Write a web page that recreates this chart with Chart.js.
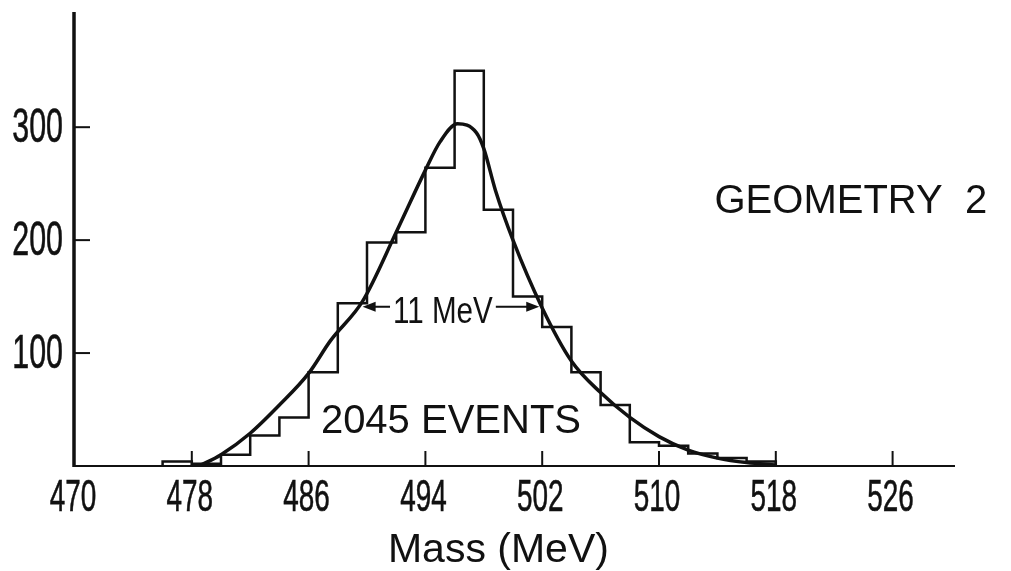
<!DOCTYPE html>
<html>
<head>
<meta charset="utf-8">
<script src="https://cdn.jsdelivr.net/npm/chart.js@4.4.0/dist/chart.umd.min.js"></script>
<style>
  html, body { margin: 0; padding: 0; background: #fff; }
  #wrap { width: 1011px; height: 571px; position: relative; }
</style>
</head>
<body>
<div id="wrap"><canvas id="chart"></canvas></div>
<script>
// histogram: left edge of each 2 MeV bin and its number of events
const binEdges = [476, 478, 480, 482, 484, 486, 488, 490, 492, 494, 496, 498, 500, 502, 504, 506, 508, 510, 512, 514, 516];
const binWidth = 2;
const counts = [4, 2, 10, 27, 43, 83, 144, 198, 207, 264, 350, 227, 150, 123, 83, 54, 21, 18, 11, 7, 4];

// fitted resolution curve
const fitMass = [478.5, 480, 482, 484, 486, 487.5, 489.7, 492, 494, 495, 496.2, 497.5, 498, 498.8, 500, 502, 504, 506, 508, 510, 512, 514, 516, 518];
const fitValue = [0, 10, 29, 54, 82, 111, 146, 207, 262, 287, 303, 295, 281, 244, 200, 140, 93, 65, 43, 26, 14, 7, 3, 1];

const xTicks = [470, 478, 486, 494, 502, 510, 518, 526];
const yTicks = [100, 200, 300];

// labels written on the plot
const fwhmText = '11 MeV';
const fwhmFrom = 489.7, fwhmTo = 501.8, fwhmLevel = 141;
const eventsText = '2045 EVENTS';
const geometryText = 'GEOMETRY  2';
const xTitle = 'Mass (MeV)';

const histData = [{ x: binEdges[0], y: 0 }]
    .concat(binEdges.map((e, i) => ({ x: e, y: counts[i] })))
    .concat([{ x: binEdges[binEdges.length - 1] + binWidth, y: 0 }]);
const fitData = fitMass.map((m, i) => ({ x: m, y: fitValue[i] }));

const INK = '#111';
const FONT = "'Liberation Sans', Arial, sans-serif";

// draws text squeezed horizontally (the hand lettering is narrow)
function squeezed(ctx, text, x, y, sx, align, weight) {
    ctx.save();
    ctx.translate(x, y);
    ctx.scale(sx, 1);
    ctx.textAlign = align;
    ctx.fillText(text, 0, 0);
    if (weight) {
        ctx.lineWidth = weight;
        ctx.strokeText(text, 0, 0);
    }
    ctx.restore();
}

function arrowHead(ctx, x, y, dir) {
    ctx.beginPath();
    ctx.moveTo(x, y);
    ctx.lineTo(x - dir * 13, y - 5);
    ctx.lineTo(x - dir * 13, y + 5);
    ctx.closePath();
    ctx.fill();
}

const paperAxes = {
    id: 'paperAxes',
    afterDatasetsDraw(chart) {
        const { ctx, chartArea: a } = chart;
        const xs = chart.scales.x, ys = chart.scales.y;
        const y0 = ys.getPixelForValue(0);
        ctx.save();
        ctx.strokeStyle = INK;
        ctx.fillStyle = INK;
        ctx.lineCap = 'butt';

        // axes
        ctx.lineWidth = 3.5;
        ctx.beginPath();
        ctx.moveTo(a.left - 1, a.top);
        ctx.lineTo(a.left - 1, y0 + 1);
        ctx.stroke();
        ctx.lineWidth = 2.2;
        ctx.beginPath();
        ctx.moveTo(a.left - 2, y0);
        ctx.lineTo(a.right + 4, y0);
        ctx.stroke();

        // tick marks pointing into the plot
        ctx.lineWidth = 2;
        yTicks.forEach(v => {
            const py = ys.getPixelForValue(v);
            ctx.beginPath();
            ctx.moveTo(a.left, py);
            ctx.lineTo(a.left + 15, py);
            ctx.stroke();
        });
        xTicks.slice(1).forEach(v => {
            const px = xs.getPixelForValue(v);
            ctx.beginPath();
            ctx.moveTo(px, y0);
            ctx.lineTo(px, y0 - 15);
            ctx.stroke();
        });

        // tick labels
        ctx.textBaseline = 'middle';
        ctx.font = '49px ' + FONT;
        yTicks.forEach(v => squeezed(ctx, String(v), a.left - 12, ys.getPixelForValue(v) + 1, 0.62, 'right', 0.6));
        ctx.font = '45px ' + FONT;
        xTicks.forEach(v => squeezed(ctx, String(v), xs.getPixelForValue(v) - 2, y0 + 33, 0.62, 'center', 0.6));

        // axis title
        ctx.textBaseline = 'alphabetic';
        ctx.font = '41px ' + FONT;
        ctx.textAlign = 'center';
        ctx.fillText(xTitle, xs.getPixelForValue(499), 562);

        // event count and geometry
        ctx.font = '40px ' + FONT;
        ctx.fillText(eventsText, xs.getPixelForValue(495.75), ys.getPixelForValue(29));
        ctx.textAlign = 'left';
        ctx.fillText(geometryText, xs.getPixelForValue(513.8), ys.getPixelForValue(224));

        // full width at half maximum
        const fy = ys.getPixelForValue(fwhmLevel);
        const left = xs.getPixelForValue(fwhmFrom), right = xs.getPixelForValue(fwhmTo);
        const tx = xs.getPixelForValue(495.2);
        ctx.font = '37px ' + FONT;
        const half = ctx.measureText(fwhmText).width * 0.8 / 2;
        squeezed(ctx, fwhmText, tx, ys.getPixelForValue(127), 0.8, 'center');
        ctx.lineWidth = 2;
        ctx.beginPath();
        ctx.moveTo(tx - half - 3, fy);
        ctx.lineTo(left + 6, fy);
        ctx.moveTo(tx + half + 3, fy);
        ctx.lineTo(right - 6, fy);
        ctx.stroke();
        arrowHead(ctx, left, fy, -1);
        arrowHead(ctx, right, fy, 1);
        ctx.restore();
    }
};

new Chart(document.getElementById('chart'), {
    type: 'line',
    data: {
        datasets: [
            {
                label: 'events',
                data: histData,
                stepped: true,
                borderColor: INK,
                borderWidth: 2.5,
                pointRadius: 0,
                fill: false
            },
            {
                label: 'fit',
                data: fitData,
                cubicInterpolationMode: 'monotone',
                borderColor: INK,
                borderWidth: 3.5,
                pointRadius: 0,
                fill: false
            }
        ]
    },
    options: {
        responsive: true,
        maintainAspectRatio: false,
        animation: false,
        layout: { padding: { left: 75, right: 60, top: 12, bottom: 105 } },
        plugins: { legend: { display: false }, tooltip: { enabled: false } },
        scales: {
            x: { type: 'linear', min: 470, max: 530, display: false },
            y: { type: 'linear', min: 0, max: 402, display: false }
        }
    },
    plugins: [paperAxes]
});
</script>
</body>
</html>
